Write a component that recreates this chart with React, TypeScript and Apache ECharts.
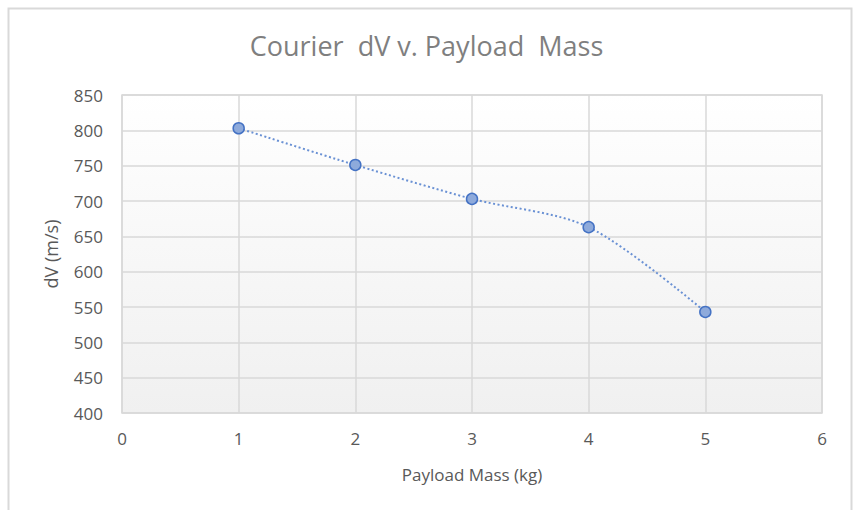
import React, { useEffect, useRef } from "react";
import * as echarts from "echarts";

const payloadMass = [1, 2, 3, 4, 5];
const deltaV = [803, 751, 703, 663, 543];
const titleText = "Courier  dV v. Payload  Mass";
const xAxisName = "Payload Mass (kg)";
const yAxisName = "dV (m/s)";

export default function App() {
  const ref = useRef<HTMLDivElement>(null);
  useEffect(() => {
    if (!ref.current) return;
    const chart = echarts.init(ref.current, null, { renderer: "svg" });
    const font = "Open Sans, Noto Sans, sans-serif";
    chart.setOption({
      animation: false,
      backgroundColor: "#ffffff",
      title: {
        text: titleText,
        left: "center",
        top: 27,
        textStyle: { color: "#7f7f7f", fontSize: 27, fontWeight: "normal", fontFamily: font },
      },
      graphic: [
        {
          type: "rect",
          shape: { x: 8.5, y: 8.5, width: 843, height: 600 },
          style: { fill: "none", stroke: "#d9d9d9", lineWidth: 2 },
          silent: true,
        },
      ],
      grid: {
        left: 122,
        right: 31,
        top: 95,
        bottom: 97,
        show: true,
        borderColor: "#d9d9d9",
        borderWidth: 1.5,
        backgroundColor: {
          type: "linear",
          x: 0,
          y: 0,
          x2: 0,
          y2: 1,
          colorStops: [
            { offset: 0, color: "#ffffff" },
            { offset: 1, color: "#f0f0f0" },
          ],
        },
      },
      xAxis: {
        type: "value",
        min: 0,
        max: 6,
        interval: 1,
        name: xAxisName,
        nameLocation: "middle",
        nameGap: 53,
        nameTextStyle: { color: "#595959", fontSize: 17, fontFamily: font },
        axisLine: { show: false },
        axisTick: { show: false },
        axisLabel: { color: "#595959", fontSize: 17, margin: 17, fontFamily: font },
        splitLine: { show: true, lineStyle: { color: "#d9d9d9", width: 1.5 } },
      },
      yAxis: {
        type: "value",
        min: 400,
        max: 850,
        interval: 50,
        name: yAxisName,
        nameLocation: "middle",
        nameGap: 62,
        nameTextStyle: { color: "#595959", fontSize: 18, fontFamily: font },
        axisLine: { show: false },
        axisTick: { show: false },
        axisLabel: { color: "#595959", fontSize: 17, margin: 19, fontFamily: font },
        splitLine: { show: true, lineStyle: { color: "#d9d9d9", width: 1.5 } },
      },
      series: [
        {
          type: "line",
          data: payloadMass.map((x, i) => [x, deltaV[i]]),
          smooth: 0.3,
          symbol: "circle",
          symbolSize: 11,
          lineStyle: { color: "#6a91d4", width: 2, type: [2, 2.5] },
          itemStyle: { color: "#8eaadb", borderColor: "#4472c4", borderWidth: 1.5 },
        },
      ],
    });
    return () => chart.dispose();
  }, []);
  return (
    <div
      ref={ref}
      style={{ position: "fixed", left: 0, top: 0, width: 853, height: 510 }}
    />
  );
}
